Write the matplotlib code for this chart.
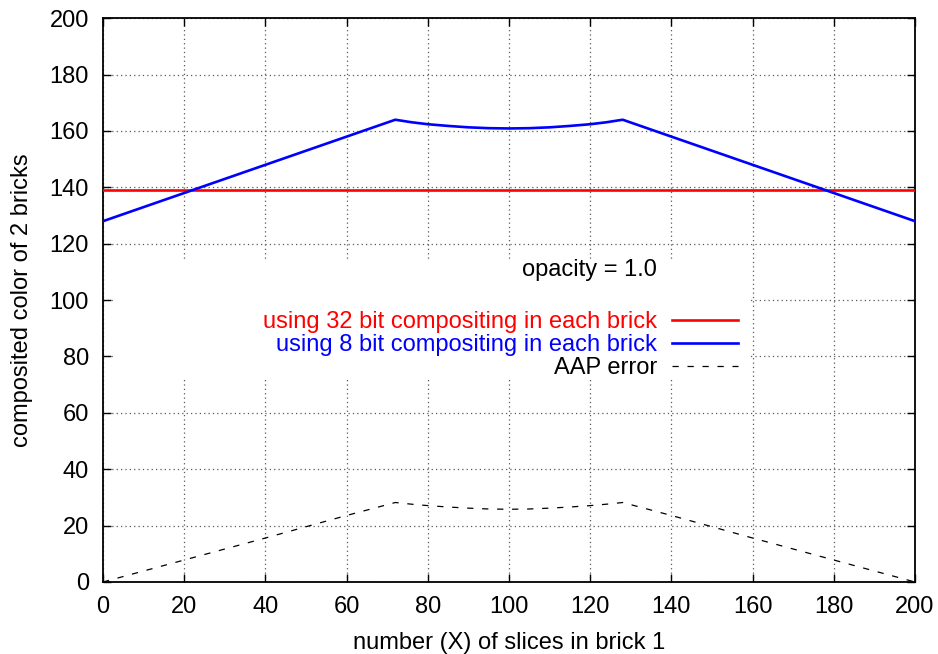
import matplotlib
matplotlib.use("Agg")
import matplotlib.pyplot as plt
from matplotlib.patches import Rectangle

plt.rcParams['font.family'] = ['Liberation Sans', 'DejaVu Sans']

# Data
x_vals = [0, 20, 40, 60, 72, 76, 80, 85, 90, 95, 100, 105, 110, 115, 120, 124, 128, 140, 160, 180, 200]
blue_8bit = [128, 138, 148, 158, 164, 163.1, 162.4, 161.8, 161.3, 161.0, 160.9, 161.0, 161.3, 161.8,
             162.4, 163.1, 164, 158, 148, 138, 128]
aap_error = [0, 7.8, 15.6, 23.6, 28.2, 27.6, 27.1, 26.6, 26.2, 25.9, 25.8, 25.9, 26.2, 26.6,
             27.1, 27.6, 28.2, 23.6, 15.6, 7.8, 0]
red_x = [0, 200]
red_32bit = [139, 139]

xticks = list(range(0, 201, 20))
yticks = list(range(0, 201, 20))

FS = 17

fig = plt.figure(figsize=(9.38, 6.54), dpi=100)
ax = fig.add_axes([0.1098, 0.1101, 0.8657, 0.862])

ax.set_xlim(0, 200)
ax.set_ylim(0, 200)
ax.set_xticks(xticks)
ax.set_yticks(yticks)
ax.set_axisbelow(True)
ax.grid(True, color='0.35', linestyle=(0, (1, 2.5)), linewidth=0.9)
ax.tick_params(direction='in', length=6, width=1, top=True, right=True,
               labelsize=FS, colors='black')
ax.tick_params(axis='x', pad=10)
ax.tick_params(axis='y', pad=10)
for s in ax.spines.values():
    s.set_linewidth(1.3)

# key area clears the grid (gnuplot style)
ax.add_patch(Rectangle((2.5, 71.8), 157.2, 42.6, facecolor='white', edgecolor='none', zorder=0.8))

l1, = ax.plot(red_x, red_32bit, color='#ff0000', lw=1.9, zorder=3,
              label='using 32 bit compositing in each brick')
l2, = ax.plot(x_vals, blue_8bit, color='#0000ff', lw=1.9, zorder=3,
              label='using 8 bit compositing in each brick')
l3, = ax.plot(x_vals, aap_error, color='black', lw=0.9, dashes=(5, 7), zorder=3,
              label='AAP error')

ax.text(0.682, 0.5535, 'opacity = 1.0', transform=ax.transAxes, ha='right', va='center',
        fontsize=FS)

leg = ax.legend(handles=[l1, l2, l3], loc='upper right', bbox_to_anchor=(0.782, 0.48),
                frameon=False, markerfirst=False, labelcolor='linecolor', fontsize=FS,
                handlelength=2.8, handletextpad=0.64, labelspacing=0.04, borderpad=0,
                borderaxespad=0)

ax.set_xlabel('number (X) of slices in brick 1', fontsize=FS, labelpad=10)
ax.set_ylabel('composited color of 2 bricks', fontsize=FS, labelpad=12)

fig.savefig('out.png', dpi=100)
